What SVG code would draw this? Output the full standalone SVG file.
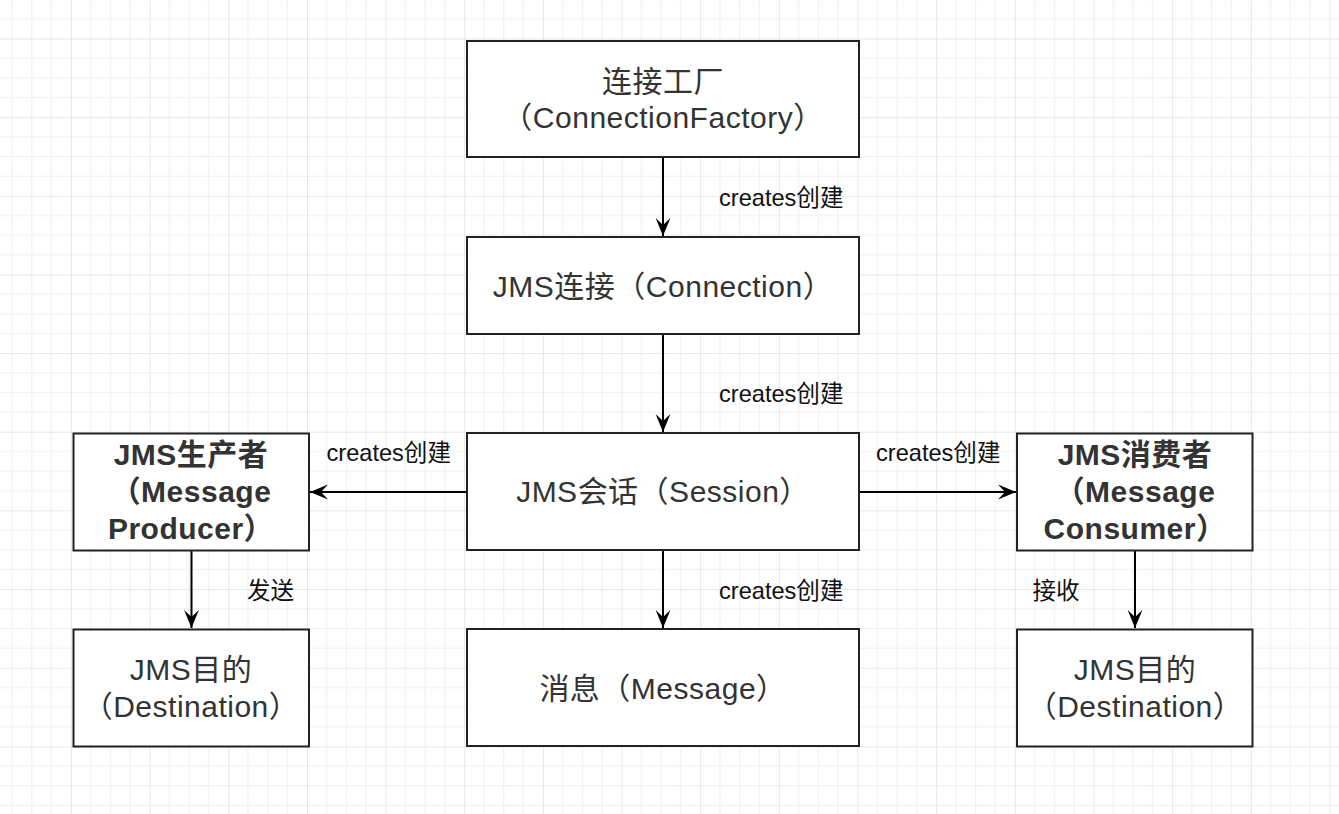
<svg xmlns="http://www.w3.org/2000/svg" width="1339" height="814" viewBox="0 0 1339 814">
  <style>
    .box { fill: #ffffff; stroke: #222222; stroke-width: 2; }
    .t { font-family: "Liberation Sans", "Noto Sans CJK SC", sans-serif; font-size: 30px; letter-spacing: 0.5px; fill: #333333; text-anchor: middle; }
    .b { font-weight: bold; }
    .lbl { font-family: "Liberation Sans", "Noto Sans CJK SC", sans-serif; font-size: 23.6px; fill: #111111; }
    .edge { fill: none; stroke: #000000; stroke-width: 2; marker-end: url(#arrow); }
  </style>
  <defs>
    <pattern id="grid" patternUnits="userSpaceOnUse" x="71" y="38.5" width="78.65" height="78.65">
      <rect x="19.16" y="0" width="1.2" height="78.65" fill="#f1f1f1"/>
      <rect x="38.83" y="0" width="1.2" height="78.65" fill="#f1f1f1"/>
      <rect x="58.49" y="0" width="1.2" height="78.65" fill="#f1f1f1"/>
      <rect x="0" y="19.16" width="78.65" height="1.2" fill="#f1f1f1"/>
      <rect x="0" y="38.83" width="78.65" height="1.2" fill="#f1f1f1"/>
      <rect x="0" y="58.49" width="78.65" height="1.2" fill="#f1f1f1"/>
      <rect x="-0.5" y="0" width="1" height="78.65" fill="#d0d0d0"/>
      <rect x="0" y="-0.5" width="78.65" height="1" fill="#d0d0d0"/>
    </pattern>
    <marker id="arrow" markerUnits="userSpaceOnUse" viewBox="0 0 18 16" markerWidth="18" markerHeight="16" refX="18" refY="8" orient="auto">
      <path d="M18,8 L0,0.6 L7,8 L0,15.4 Z" fill="#000000"/>
    </marker>
  </defs>

  <rect x="0" y="0" width="1339" height="814" fill="#ffffff"/>
  <rect x="0" y="0" width="1339" height="814" fill="url(#grid)"/>

  <g id="connectors">
    <line class="edge" x1="663" y1="157" x2="663" y2="236"/>
    <line class="edge" x1="663" y1="334" x2="663" y2="432"/>
    <line class="edge" x1="663" y1="550" x2="663" y2="628"/>
    <line class="edge" x1="467" y1="492" x2="310" y2="492"/>
    <line class="edge" x1="859" y1="492" x2="1016" y2="492"/>
    <line class="edge" x1="191.5" y1="551" x2="191.5" y2="628"/>
    <line class="edge" x1="1135" y1="551" x2="1135" y2="628"/>
    <text class="lbl" x="719" y="206">creates创建</text>
    <text class="lbl" x="719" y="402">creates创建</text>
    <text class="lbl" x="719" y="599">creates创建</text>
    <text class="lbl" x="326.5" y="460.5">creates创建</text>
    <text class="lbl" x="876" y="460.5">creates创建</text>
    <text class="lbl" x="247" y="598.5">发送</text>
    <text class="lbl" x="1032.5" y="598.5">接收</text>
  </g>

  <g id="node-factory">
    <rect class="box" x="467" y="41" width="392" height="116"/>
    <text class="t" x="663" y="92">连接工厂</text>
    <text class="t" x="663" y="127.5">（ConnectionFactory）</text>
  </g>

  <g id="node-connection">
    <rect class="box" x="467" y="237" width="392" height="97"/>
    <text class="t" x="663" y="296.5">JMS连接（Connection）</text>
  </g>

  <g id="node-session">
    <rect class="box" x="467" y="433" width="392" height="117"/>
    <text class="t" x="663" y="502">JMS会话（Session）</text>
  </g>

  <g id="node-message">
    <rect class="box" x="467" y="629" width="392" height="117"/>
    <text class="t" x="663" y="698.5">消息（Message）</text>
  </g>

  <g id="node-producer">
    <rect class="box" x="73.5" y="433.5" width="235.5" height="117"/>
    <text class="t b" x="191" y="465">JMS生产者</text>
    <text class="t b" x="191" y="502">（Message</text>
    <text class="t b" x="191" y="538.5">Producer）</text>
  </g>

  <g id="node-destination-left">
    <rect class="box" x="73.5" y="629.5" width="235.5" height="117"/>
    <text class="t" x="191" y="680">JMS目的</text>
    <text class="t" x="191" y="717">（Destination）</text>
  </g>

  <g id="node-consumer">
    <rect class="box" x="1017" y="433.5" width="235.5" height="117"/>
    <text class="t b" x="1135" y="465">JMS消费者</text>
    <text class="t b" x="1135" y="502">（Message</text>
    <text class="t b" x="1135" y="538.5">Consumer）</text>
  </g>

  <g id="node-destination-right">
    <rect class="box" x="1017" y="629.5" width="235.5" height="117"/>
    <text class="t" x="1135" y="680">JMS目的</text>
    <text class="t" x="1135" y="717">（Destination）</text>
  </g>
</svg>
